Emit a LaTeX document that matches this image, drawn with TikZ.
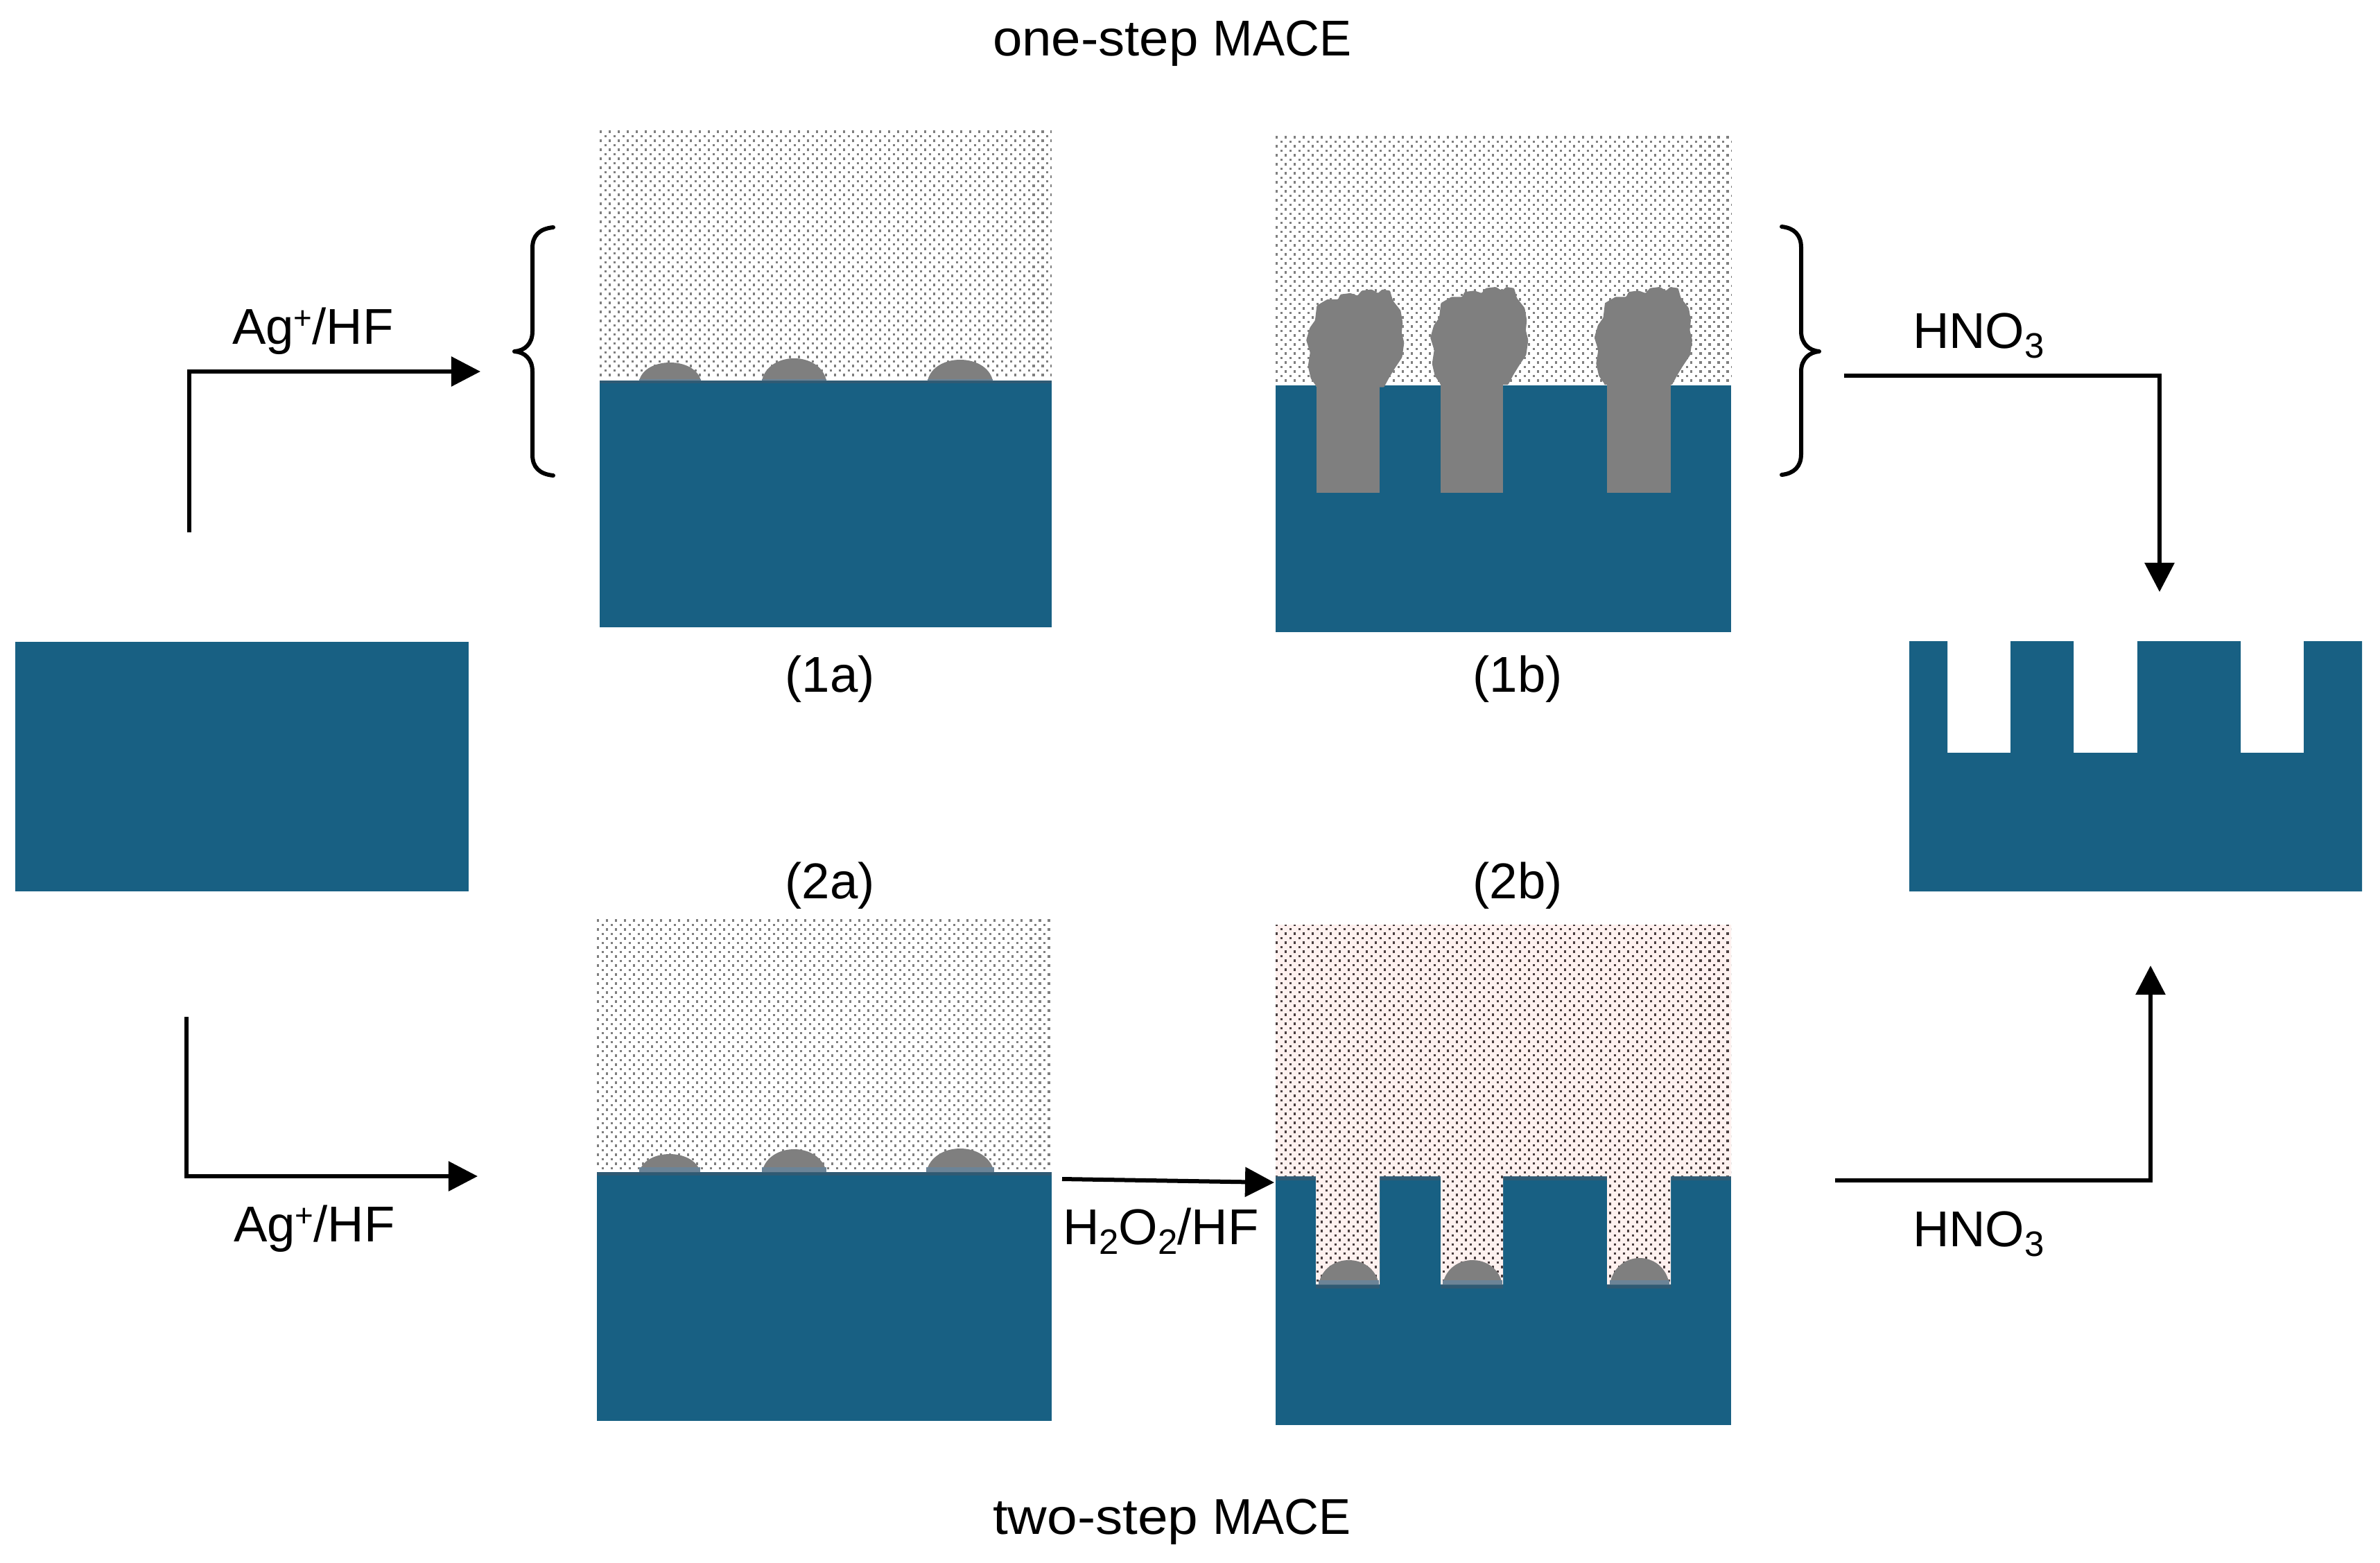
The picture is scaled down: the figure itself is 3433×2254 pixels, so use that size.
\documentclass[tikz,border=0pt]{standalone}
\usepackage{fontspec}
\usepackage{graphicx}
\setmainfont{Liberation Sans}
\usetikzlibrary{arrows.meta}
\definecolor{siteal}{HTML}{186083}
\definecolor{sistrip}{HTML}{2F5A74}
\definecolor{agrey}{HTML}{7F7F7F}
\definecolor{agband}{HTML}{6C8497}
\definecolor{etchpink}{HTML}{FEF1EF}
\definecolor{dotgrey}{HTML}{7F7F7F}
\definecolor{dotdark}{HTML}{4A3F40}
\tikzset{
  plate/.style={fill=siteal,draw=none,inner sep=0pt,outer sep=0pt},
  label/.style={inner sep=0pt,outer sep=0pt,anchor=base west,text=black,font=\fontsize{20.65}{24}\selectfont},
  caplabel/.style={inner sep=0pt,outer sep=0pt,anchor=base,text=black,font=\fontsize{20.65}{24}\selectfont},
  flow/.style={draw=black,line width=0.06cm,miter limit=10},
  flowtip/.style={flow,-{Triangle[length=0.42cm,width=0.42cm]}},
  bracket/.style={draw=black,line width=0.06cm,line cap=round,line join=round},
  dotrow/.style={line width=0.031cm,dash pattern=on 0.031cm off 0.099cm},
}
\newcommand{\subx}[1]{\raisebox{-0.2em}{\fontsize{14.5}{14.5}\selectfont #1}}
\newcommand{\supx}[1]{\raisebox{0.3em}{\fontsize{13}{13}\selectfont #1}}
\newcommand{\titlex}[3]{\scalebox{#3}[1]{#1}\hspace{0.21cm}\scalebox{0.95}[1]{#2}}
% lattice of dots: each row is one dashed stroke
\newcommand{\dotfield}[5]{%
  \pgfmathtruncatemacro\nrows{(#4-#2-3)/6.5}%
  \foreach \j [evaluate=\j as \off using {mod(\j,2)*6.5}] in {0,...,\nrows}{
     \draw[dotrow,#5] (#1+\off,#2+\j*6.5) -- (#3,#2+\j*6.5);}}
% silver cap: x1,x2,base,top,band height
\newcommand{\bumpcap}[5]{%
  \pgfmathsetmacro\bw{#2-#1}%
  \pgfmathsetmacro\yc{#3+(#4-#3)/0.75}%
  \fill[agrey] (#1,#3) .. controls (#1+0.1*\bw,\yc) and (#2-0.1*\bw,\yc) .. (#2,#3) -- cycle;
  \fill[agband] (#1,#3-#5) rectangle (#2,#3);}
\newcommand{\blobpath}{%
  \fill[agrey,rounded corners=0.01cm] (193,1055) -- (178,1025) -- (170,975) -- (176,920) -- (165,870) -- (175,820) -- (190,790) -- (195,730) -- (225,705) -- (255,705) -- (262,685) -- (290,680) -- (310,690) -- (322,670) -- (350,665) -- (368,680) -- (380,665) -- (402,670) -- (410,710) -- (432,750) -- (438,800) -- (435,840) -- (442,880) -- (436,940) -- (415,985) -- (400,1020) -- (385,1060) -- (193,1060) -- cycle;}
\begin{document}
\begin{tikzpicture}[x=0.01cm,y=-0.01cm]
\useasboundingbox (0,0) rectangle (3433,2254);
\fill[white] (0,0) rectangle (3433,2254);

% --- plates ---
\node[plate,minimum width=6.54cm,minimum height=3.6cm] (wafer0) at (349,1106) {};

% (1a)
\dotfield{865}{190}{1517}{548}{dotgrey}
\node[plate,minimum width=6.52cm,minimum height=3.56cm] (wafer1a) at (1191,727) {};
\fill[sistrip] (865,549) rectangle (1517,553);
\bumpcap{922}{1011}{549}{523}{2}
\bumpcap{1099}{1192}{549}{517}{2}
\bumpcap{1338}{1432}{549}{519}{2}

% (1b)
\dotfield{1840}{198}{2497}{555}{dotgrey}
\node[plate,minimum width=6.57cm,minimum height=3.56cm] (wafer1b) at (2168.5,734) {};
\fill[agrey] (1898.5,550) rectangle (1990,711);
\fill[agrey] (2078,550) rectangle (2168,711);
\fill[agrey] (2318,550) rectangle (2410,711);
\begin{scope}[shift={(1800,180)},x=0.0051cm,y=-0.00357cm]
  \blobpath
  \begin{scope}[shift={(351,-10)}]\blobpath\end{scope}
  \begin{scope}[shift={(815,-10)}]\blobpath\end{scope}
\end{scope}

% (2a)
\dotfield{861}{1328}{1517}{1691}{dotgrey}
\node[plate,minimum width=6.56cm,minimum height=3.59cm] (wafer2a) at (1189,1870.5) {};
\fill[sistrip] (861,1691) rectangle (1517,1696);
\bumpcap{922}{1010}{1691}{1665}{7}
\bumpcap{1099}{1192}{1691}{1658}{7}
\bumpcap{1336}{1434}{1691}{1657}{7}

% (2b)
\node[plate,minimum width=6.57cm,minimum height=3.59cm] (wafer2b) at (2168.5,1876.5) {};
\fill[sistrip] (1840,1697) rectangle (2497,1703);
\fill[sistrip] (1898,1853) rectangle (1990,1859);
\fill[sistrip] (2078,1853) rectangle (2168,1859);
\fill[sistrip] (2318,1853) rectangle (2410,1859);
\def\etchshape{(1840,1334) -- (2497,1334) -- (2497,1697) -- (2410,1697) -- (2410,1853) -- (2318,1853) -- (2318,1697) -- (2168,1697) -- (2168,1853) -- (2078,1853) -- (2078,1697) -- (1990,1697) -- (1990,1853) -- (1898,1853) -- (1898,1697) -- (1840,1697) -- cycle}
\fill[etchpink] \etchshape;
\begin{scope}
  \clip \etchshape;
  \dotfield{1840}{1334}{2497}{1853}{dotdark}
\end{scope}
\bumpcap{1902}{1989}{1853}{1818}{6}
\bumpcap{2081}{2167}{1853}{1818}{6}
\bumpcap{2322}{2408}{1853}{1815}{6}

% final wafer
\fill[siteal] (2754,925) -- (2809,925) -- (2809,1086) -- (2900,1086) -- (2900,925) -- (2991,925) -- (2991,1086) -- (3083,1086) -- (3083,925) -- (3232,925) -- (3232,1086) -- (3323,1086) -- (3323,925) -- (3407,925) -- (3407,1286) -- (2754,1286) -- cycle;

% --- braces ---
\draw[bracket] (798,328) .. controls (778,330) and (768,340) .. (768,358) -- (768,478) .. controls (768,496) and (757,506) .. (742,507) .. controls (757,508) and (768,518) .. (768,536) -- (768,656) .. controls (768,674) and (778,684) .. (798,686);
\draw[bracket] (2570,327) .. controls (2588,329) and (2598,339) .. (2598,357) -- (2598,478) .. controls (2598,496) and (2610,506) .. (2624,507) .. controls (2610,508) and (2598,518) .. (2598,536) -- (2598,655) .. controls (2598,673) and (2588,683) .. (2570,685);

% --- connector ends ---
\coordinate (a1s) at (273,768);
\coordinate (a1c) at (273,536);
\coordinate (a1e) at (693,536);
\coordinate (a2s) at (269,1467);
\coordinate (a2c) at (269,1697);
\coordinate (a2e) at (689,1697);
\coordinate (a3s) at (1532,1701);
\coordinate (a3e) at (1838,1706);
\coordinate (a4s) at (2660,542);
\coordinate (a4c) at (3115,542);
\coordinate (a4e) at (3115,854);
\coordinate (a5s) at (2647,1703);
\coordinate (a5c) at (3102,1703);
\coordinate (a5e) at (3102,1393);
\draw[flowtip] (a1s) -- (a1c) -- (a1e);
\draw[flowtip] (a2s) -- (a2c) -- (a2e);
\draw[flowtip] (a3s) -- (a3e);
\draw[flowtip] (a4s) -- (a4c) -- (a4e);
\draw[flowtip] (a5s) -- (a5c) -- (a5e);

% --- labels ---
\node[label] (t1) at (1432,80) {\titlex{one-step}{MACE}{1.05}};
\node[label] (t2) at (1432,2213) {\titlex{two-step}{MACE}{1.08}};
\node[label] (l1) at (335,496) {Ag\supx{+}/HF};
\node[label] (l2) at (337,1791) {Ag\supx{+}/HF};
\node[label] (l3) at (2759,502) {HNO\subx{3}};
\node[label] (l4) at (2759,1798) {HNO\subx{3}};
\node[label] (l5) at (1533,1795) {H\subx{2}O\subx{2}/HF};
\node[caplabel] (c1a) at (1197,998) {(1a)};
\node[caplabel] (c1b) at (2189,998) {(1b)};
\node[caplabel] (c2a) at (1197,1296) {(2a)};
\node[caplabel] (c2b) at (2189,1296) {(2b)};
\end{tikzpicture}
\end{document}
